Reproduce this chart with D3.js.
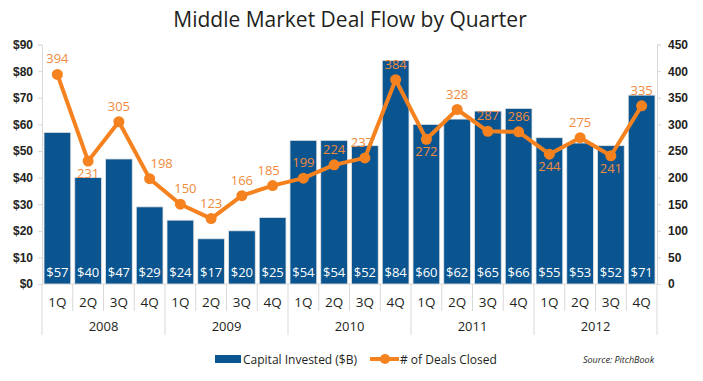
<!DOCTYPE html>
<html>
<head>
<meta charset="utf-8">
<script src="https://cdn.jsdelivr.net/npm/d3@7"></script>
<style>
  html, body { margin: 0; padding: 0; background: #fff; }
  svg { display: block; font-family: "Open Sans", "Lato", sans-serif; }
</style>
</head>
<body>
<svg id="chart" width="703" height="381"></svg>
<script>
const quarters = ["1Q","2Q","3Q","4Q","1Q","2Q","3Q","4Q","1Q","2Q","3Q","4Q","1Q","2Q","3Q","4Q","1Q","2Q","3Q","4Q"];
const years = ["2008","2009","2010","2011","2012"];
const capital = [57,40,47,29,24,17,20,25,54,54,52,84,60,62,65,66,55,53,52,71];
const deals = [394,231,305,198,150,123,166,185,199,224,237,384,272,328,287,286,244,275,241,335];
const dealLabelBelow = [false,true,false,false,false,false,false,false,false,false,false,false,true,false,false,false,true,false,true,false];
const dealLabelShift = [0,0,0,12,5,0,0,-4,0,0,-3,0,0,0,0,0,0,0,0,0];
const leftTicks = [0,10,20,30,40,50,60,70,80,90];
const rightTicks = [0,50,100,150,200,250,300,350,400,450];

(function () {
const svg = d3.select("#chart");
const pL = 42, pR = 657, pT = 44.6, pB = 284;
const blue = "#0a5590", orange = "#f5821f", orangeText = "#f08a3c", grid = "#d9d9d9";

const x = d3.scaleBand().domain(d3.range(capital.length)).range([pL, pR])
  .paddingInner(0.13).paddingOuter(0.065);
const yL = d3.scaleLinear().domain([0, 90]).range([pB, pT]);
const yR = d3.scaleLinear().domain([0, 450]).range([pB, pT]);

// title
svg.append("text").attr("x", 350).attr("y", 27).attr("text-anchor", "middle")
  .attr("font-size", 21).attr("fill", "#231f20").text("Middle Market Deal Flow by Quarter");

// left axis
const gL = svg.append("g").attr("transform", `translate(${pL},0)`)
  .call(d3.axisLeft(yL).tickValues(leftTicks).tickFormat(d => "$" + d).tickSize(4).tickPadding(5));
gL.select(".domain").attr("stroke", grid);
gL.selectAll(".tick line").attr("stroke", grid);
gL.selectAll("text").attr("font-size", 12).attr("font-weight", 600).attr("fill", "#231f20");

// right axis
const gR = svg.append("g").attr("transform", `translate(${pR},0)`)
  .call(d3.axisRight(yR).tickValues(rightTicks).tickSize(4).tickPadding(7));
gR.select(".domain").attr("stroke", grid);
gR.selectAll(".tick line").attr("stroke", grid);
gR.selectAll("text").attr("font-size", 12).attr("font-weight", 600).attr("fill", "#231f20");

// baseline
svg.append("line").attr("x1", pL).attr("x2", pR).attr("y1", pB).attr("y2", pB).attr("stroke", grid);

// category separators
const step = x.step();
d3.range(capital.length + 1).forEach(i => {
  const xx = pL + i * step;
  svg.append("line").attr("x1", xx).attr("x2", xx).attr("y1", pB)
    .attr("y2", i % 4 === 0 ? 335 : 311).attr("stroke", grid);
});

// bars
svg.append("g").selectAll("rect").data(capital).join("rect")
  .attr("x", (d, i) => x(i)).attr("width", x.bandwidth())
  .attr("y", d => yL(d)).attr("height", d => pB - yL(d))
  .attr("fill", blue).attr("stroke", "#e3e3e3").attr("stroke-width", 0.8);

// bar labels
svg.append("g").selectAll("text").data(capital).join("text")
  .attr("x", (d, i) => x(i) + x.bandwidth() / 2).attr("y", 276.5)
  .attr("text-anchor", "middle").attr("font-size", 13).attr("fill", "#fff")
  .text(d => "$" + d);

// quarter labels
svg.append("g").selectAll("text").data(quarters).join("text")
  .attr("x", (d, i) => x(i) + x.bandwidth() / 2).attr("y", 307)
  .attr("text-anchor", "middle").attr("font-size", 13.5).attr("fill", "#231f20")
  .text(d => d);

// year labels
svg.append("g").selectAll("text").data(years).join("text")
  .attr("x", (d, i) => pL + (i * 4 + 2) * step).attr("y", 331)
  .attr("text-anchor", "middle").attr("font-size", 13).attr("fill", "#231f20")
  .text(d => d);

// line
const line = d3.line().x((d, i) => x(i) + x.bandwidth() / 2).y(d => yR(d));
svg.append("path").datum(deals).attr("d", line).attr("fill", "none")
  .attr("stroke", orange).attr("stroke-width", 4).attr("stroke-linejoin", "round");
svg.append("g").selectAll("circle").data(deals).join("circle")
  .attr("cx", (d, i) => x(i) + x.bandwidth() / 2).attr("cy", d => yR(d)).attr("r", 5.5)
  .attr("fill", orange);

// deal labels
svg.append("g").selectAll("text").data(deals).join("text")
  .attr("x", (d, i) => x(i) + x.bandwidth() / 2 + dealLabelShift[i])
  .attr("y", (d, i) => yR(d) + (dealLabelBelow[i] ? 17 : -11))
  .attr("text-anchor", "middle").attr("font-size", 13).attr("fill", orangeText)
  .text(d => d);

// legend
svg.append("rect").attr("x", 215).attr("y", 355).attr("width", 26).attr("height", 8).attr("fill", blue);
svg.append("text").attr("x", 243).attr("y", 364).attr("font-size", 12).attr("fill", "#231f20")
  .text("Capital Invested ($B)");
svg.append("line").attr("x1", 370).attr("x2", 399).attr("y1", 359).attr("y2", 359)
  .attr("stroke", orange).attr("stroke-width", 4);
svg.append("circle").attr("cx", 385).attr("cy", 359).attr("r", 5).attr("fill", orange);
svg.append("text").attr("x", 400).attr("y", 364).attr("font-size", 12).attr("fill", "#231f20")
  .text("# of Deals Closed");
svg.append("text").attr("x", 583).attr("y", 363).attr("font-size", 9).attr("font-style", "italic")
  .attr("fill", "#231f20").text("Source: PitchBook");
})();
</script>
</body>
</html>
